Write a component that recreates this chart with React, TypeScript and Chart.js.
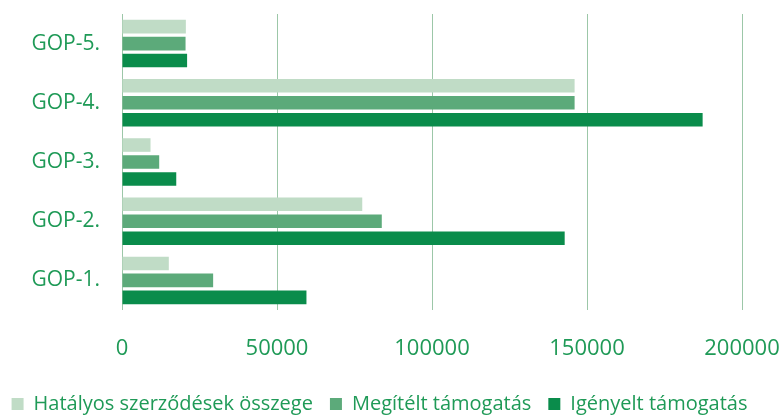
import React, { useEffect, useRef } from "react";
import { Chart, registerables } from "chart.js";

Chart.register(...registerables);

const categories = ["GOP-5.", "GOP-4.", "GOP-3.", "GOP-2.", "GOP-1."];
const hatalyos = [20600, 146000, 9200, 77500, 15100];
const megitelt = [20500, 146000, 12000, 83800, 29400];
const igenyelt = [21000, 187300, 17500, 142800, 59500];
const seriesNames = ["Hatályos szerződések összege", "Megítélt támogatás", "Igényelt támogatás"];
const xTicks = [0, 50000, 100000, 150000, 200000];

const TEXT = "#1f9a57";
const FONT = "'Open Sans', sans-serif";

const placeLegend = {
  id: "placeLegend",
  afterLayout(chart: any) {
    const l = chart.legend;
    if (l) {
      const h = l.bottom - l.top;
      l.top = 377;
      l.bottom = l.top + h;
      l.left -= 10;
      l.right -= 10;
    }
  },
};

export default function App() {
  const ref = useRef<HTMLCanvasElement | null>(null);
  useEffect(() => {
    if (!ref.current) return;
    const chart = new Chart(ref.current, {
      type: "bar",
      data: {
        labels: categories,
        datasets: [
          { label: seriesNames[0], data: hatalyos, backgroundColor: "#c0dcc6" },
          { label: seriesNames[1], data: megitelt, backgroundColor: "#5caa7a" },
          { label: seriesNames[2], data: igenyelt, backgroundColor: "#0a8c4b" },
        ],
      },
      plugins: [placeLegend],
      options: {
        indexAxis: "y",
        responsive: false,
        animation: false,
        categoryPercentage: 0.86,
        barPercentage: 0.8,
        layout: { padding: { top: 14, right: 0, bottom: 0, left: 0 } },
        plugins: {
          tooltip: { enabled: false },
          legend: {
            position: "bottom",
            labels: {
              color: TEXT,
              boxWidth: 12,
              boxHeight: 12,
              padding: 17,
              font: { family: FONT, size: 20, lineHeight: 1 },
            },
          },
        },
        scales: {
          x: {
            min: xTicks[0],
            max: xTicks[xTicks.length - 1],
            afterBuildTicks: (s: any) => {
              s.ticks = xTicks.map((v) => ({ value: v }));
            },
            afterFit: (s: any) => {
              s.paddingLeft = 0;
              s.paddingRight = 37;
              s.height = 62;
            },
            grid: { color: "#9cc7a8", lineWidth: 1, drawTicks: false },
            border: { display: false },
            ticks: {
              color: TEXT,
              padding: 26,
              maxRotation: 0,
              font: { family: FONT, size: 22 },
              callback: (v: any) => String(v),
            },
          },
          y: {
            grid: { display: false, drawTicks: false },
            border: { display: false },
            afterFit: (s: any) => {
              s.width = 122;
              s.paddingTop = 0;
              s.paddingBottom = 0;
            },
            ticks: {
              color: TEXT,
              padding: 22,
              font: { family: FONT, size: 21 },
            },
          },
        },
      },
    } as any);
    return () => chart.destroy();
  }, []);
  return (
    <div style={{ position: "fixed", left: 0, top: 0, width: 779, height: 419, background: "#fff" }}>
      <canvas ref={ref} width={779} height={419} style={{ display: "block" }} />
    </div>
  );
}
